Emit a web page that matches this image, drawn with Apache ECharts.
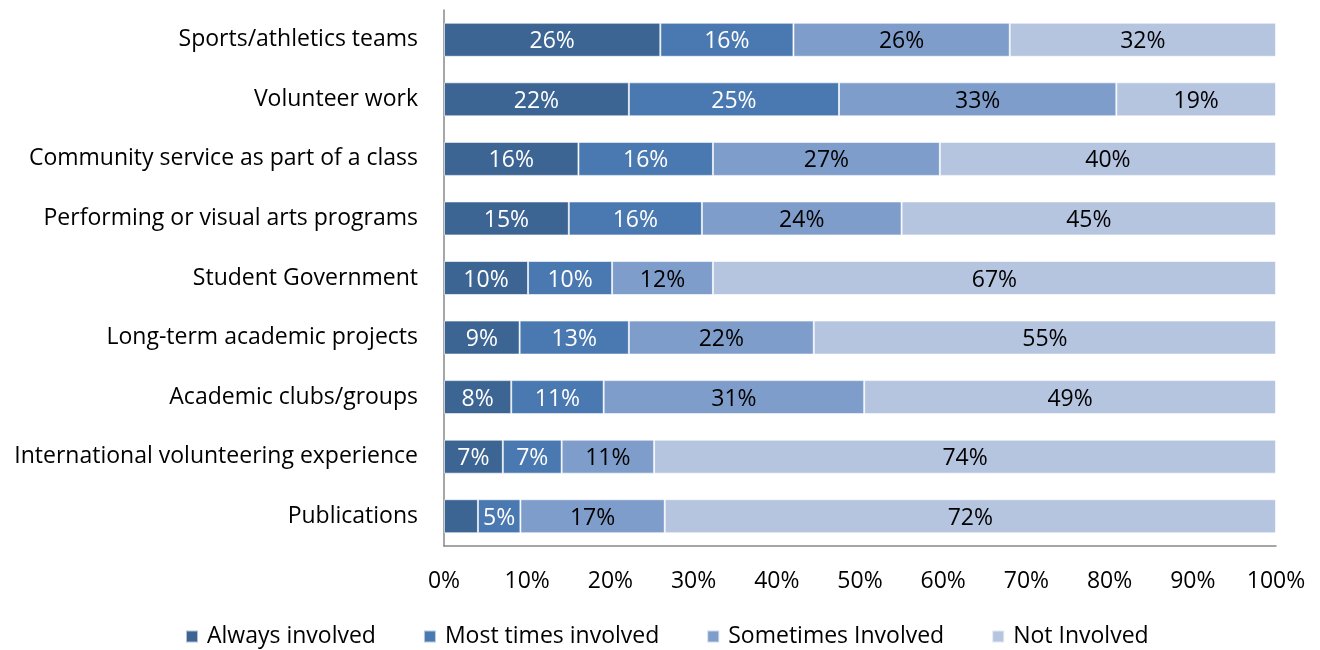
<!DOCTYPE html>
<html>
<head>
<meta charset="utf-8">
<script src="https://cdn.jsdelivr.net/npm/echarts@6/dist/echarts.min.js"></script>
<style>
  html, body { margin: 0; padding: 0; background: #ffffff; }
  #chart { width: 1320px; height: 650px; }
</style>
</head>
<body>
<div id="chart"></div>
<script>
// Activities, listed top to bottom
const categories = [
  'Sports/athletics teams',
  'Volunteer work',
  'Community service as part of a class',
  'Performing or visual arts programs',
  'Student Government',
  'Long-term academic projects',
  'Academic clubs/groups',
  'International volunteering experience',
  'Publications'
];

const seriesNames = ['Always involved', 'Most times involved', 'Sometimes Involved', 'Not Involved'];

// Reported percentages per activity (same order as categories)
const alwaysInvolved    = [26, 22, 16, 15, 10, 9, 8, 7, 4];
const mostTimesInvolved = [16, 25, 16, 16, 10, 13, 11, 7, 5];
const sometimesInvolved = [26, 33, 27, 24, 12, 22, 31, 11, 17];
const notInvolved       = [32, 19, 40, 45, 67, 55, 49, 74, 72];

// Segments whose value label is left out (too narrow)
const hiddenLabels = [[0, 8]];

const xTickLabels = ['0%', '10%', '20%', '30%', '40%', '50%', '60%', '70%', '80%', '90%', '100%'];

const colors = ['#3d6594', '#4a78b0', '#7f9dca', '#b5c4df'];
const labelColors = ['#ffffff', '#ffffff', '#000000', '#000000'];

const raw = [alwaysInvolved, mostTimesInvolved, sometimesInvolved, notInvolved];
// Each bar is scaled to its own total so that every row fills 0–100%
const totals = categories.map((_, i) => raw.reduce((s, arr) => s + arr[i], 0));

const FONT = '"Open Sans", "Noto Sans", sans-serif';
const FS = 23;

const series = raw.map((arr, si) => ({
  name: seriesNames[si],
  type: 'bar',
  stack: 'share',
  barWidth: 34,
  itemStyle: { color: colors[si], borderColor: 'rgba(255,255,255,0.6)', borderWidth: 1 },
  label: {
    show: true,
    position: 'inside',
    offset: [0, 2],
    color: labelColors[si],
    fontFamily: FONT,
    fontSize: FS,
    formatter: p => p.data.raw + '%'
  },
  emphasis: { disabled: true },
  data: arr.map((v, ci) => {
    const item = { value: v / totals[ci] * 100, raw: v };
    if (hiddenLabels.some(h => h[0] === si && h[1] === ci)) item.label = { show: false };
    return item;
  }).reverse()
}));

const chart = echarts.init(document.getElementById('chart'), null, { renderer: 'canvas' });
chart.setOption({
  animation: false,
  color: colors,
  grid: { left: 444, right: 44, top: 10, bottom: 104, containLabel: false },
  legend: {
    top: 620,
    left: 180,
    itemWidth: 12,
    itemHeight: 12,
    itemGap: 47,
    icon: 'rect',
    textStyle: { fontFamily: FONT, fontSize: FS, color: '#000000', padding: [0, 0, 0, 4] },
    data: seriesNames
  },
  xAxis: {
    type: 'value',
    min: 0,
    max: 100,
    interval: 10,
    axisLine: { show: true, lineStyle: { color: '#888888', width: 1.5 } },
    axisTick: { show: false },
    splitLine: { show: false },
    axisLabel: {
      margin: 24,
      fontFamily: FONT,
      fontSize: FS,
      color: '#000000',
      formatter: v => xTickLabels[Math.round(v / 10)]
    }
  },
  yAxis: {
    type: 'category',
    data: categories.slice().reverse(),
    axisLine: { show: true, lineStyle: { color: '#888888', width: 1.5 } },
    axisTick: { show: false },
    axisLabel: { margin: 26, fontFamily: FONT, fontSize: FS, color: '#000000', lineHeight: 28, verticalAlign: 'middle', padding: [5, 0, 0, 0] }
  },
  series: series
});
</script>
</body>
</html>
